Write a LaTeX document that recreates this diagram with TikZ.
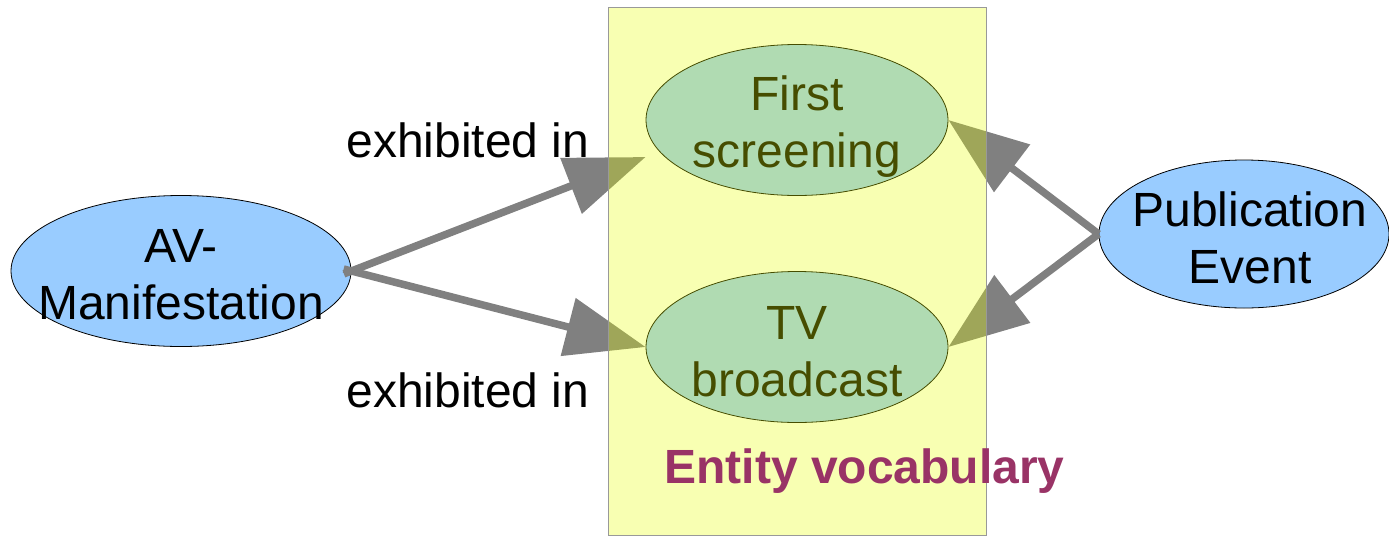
\documentclass[tikz,border=0pt]{standalone}
\usepackage{fontspec}
\setmainfont{Liberation Sans}
\usetikzlibrary{arrows.meta,shapes.geometric,calc}
\definecolor{nodeblue}{HTML}{99CCFF}
\definecolor{vocab}{HTML}{993366}
\definecolor{arrowgray}{HTML}{808080}
\definecolor{overlay}{RGB}{232,255,0}
\begin{document}
\begin{tikzpicture}[x=1pt,y=-1pt,
  ent/.style={ellipse, draw=black, line width=0.8pt, fill=nodeblue, inner sep=0pt},
  enttext/.style={align=center, inner sep=0pt, font=\fontsize{48}{57}\selectfont},
  rel/.style={draw=arrowgray, line width=7.5pt, -{Triangle[length=80pt,width=58pt]}},
  lbl/.style={font=\fontsize{48}{57}\selectfont},
  vocabbox/.style={fill=overlay, fill opacity=0.3, draw=gray!80, line width=0.8pt}]
\useasboundingbox (0,0) rectangle (1389,536);
\node[ent, minimum width=340pt, minimum height=151pt] (av) at (181,271) {};
\node[ent, minimum width=302pt, minimum height=151pt] (fs) at (797,120) {};
\node[ent, minimum width=302pt, minimum height=151pt] (tv) at (797,347) {};
\node[ent, minimum width=290pt, minimum height=148pt] (pe) at (1244,234) {};
\node[enttext] (avt) at (181,275) {AV-\\Manifestation};
\node[enttext] (fst) at (797,127) {First\\screening};
\node[enttext] (tvt) at (797,352) {TV\\broadcast};
\node[enttext] (pet) at (1250,238) {Publication\\Event};
\node[lbl] (l1) at (468,140) {exhibited in};
\node[lbl] (l2) at (468,390) {exhibited in};
\draw[rel, shorten <=-8pt] (av.east) -- ($(fs.west)+(0,37)$);
\draw[rel, shorten <=-8pt] (av.east) -- (tv.west);
\draw[rel] (pe.west) -- (fs.east);
\draw[rel] (pe.west) -- (tv.east);
\path[vocabbox] (608,7) rectangle (986,535);
\node[anchor=base, font=\fontsize{48}{52}\selectfont\bfseries, text=vocab] (ev) at (864.5,483) {Entity vocabulary};
\end{tikzpicture}
\end{document}
